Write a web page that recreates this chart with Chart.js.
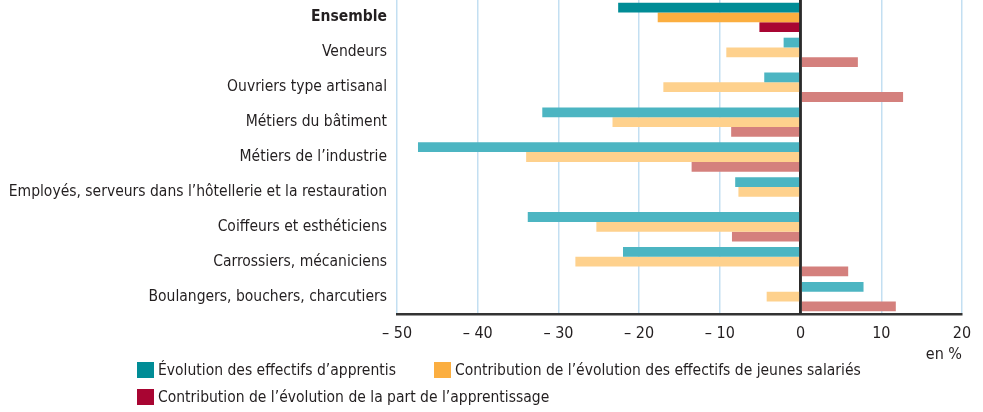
<!DOCTYPE html>
<html lang="fr">
<head>
<meta charset="utf-8">
<script src="https://cdn.jsdelivr.net/npm/chart.js@4"></script>
<style>
  body { margin: 0; background: #fff; }
  #wrap { position: relative; width: 983px; height: 412px; }
  #legend {
    position: absolute; left: 137px; top: 361px;
    font-family: "Liberation Sans Narrow", "DejaVu Sans Condensed", sans-serif;
    font-size: 15.5px; color: #231f20;
  }
  .row { display: flex; column-gap: 38px; height: 17px; margin-bottom: 10px; white-space: nowrap; }
  .item { display: flex; align-items: center; height: 17px; }
  .box { width: 17px; height: 16px; margin-right: 4px; }
</style>
</head>
<body>
<div id="wrap">
  <canvas id="bar" width="983" height="412"></canvas>
  <div id="legend"></div>
</div>
<script>
// Categories and series (values in %)
const categories = [
  'Ensemble',
  'Vendeurs',
  'Ouvriers type artisanal',
  'Métiers du bâtiment',
  'Métiers de l\u2019industrie',
  'Employés, serveurs dans l\u2019hôtellerie et la restauration',
  'Coiffeurs et esthéticiens',
  'Carrossiers, mécaniciens',
  'Boulangers, bouchers, charcutiers'
];
const apprentis = [-22.6, -2.1, -4.5, -32.0, -47.4, -8.1, -33.8, -22.0, 7.8];
const jeunesSalaries = [-17.7, -9.2, -17.0, -23.3, -34.0, -7.7, -25.3, -27.9, -4.2];
const partApprentissage = [-5.1, 7.1, 12.7, -8.6, -13.5, -0.2, -8.5, 5.9, 11.8];
const seriesLabels = [
  '\u00c9volution des effectifs d\u2019apprentis',
  'Contribution de l\u2019\u00e9volution des effectifs de jeunes salari\u00e9s',
  'Contribution de l\u2019\u00e9volution de la part de l\u2019apprentissage'
];
const xTicks = [-50, -40, -30, -20, -10, 0, 10, 20];

const darkColors = ['#008c96', '#fbae40', '#a80532'];
const lightColors = ['#4cb5c2', '#fed18d', '#d4807d'];
const FONT = '"Liberation Sans Narrow", "DejaVu Sans Condensed", sans-serif';
const FONT_SIZE = 15.5;

// first bar (Ensemble) in dark colour, others lighter
function colours(i) {
  return categories.map((c, k) => k === 0 ? darkColors[i] : lightColors[i]);
}

// zero line drawn over the bars
const zeroLine = {
  id: 'zeroLine',
  afterDatasetsDraw(chart) {
    const x = chart.scales.x.getPixelForValue(0);
    const ctx = chart.ctx;
    ctx.save();
    ctx.strokeStyle = '#2b2b2b';
    ctx.lineWidth = 2.5;
    ctx.beginPath();
    ctx.moveTo(x, chart.chartArea.top);
    ctx.lineTo(x, chart.chartArea.bottom);
    ctx.stroke();
    ctx.restore();
  }
};

const data = [apprentis, jeunesSalaries, partApprentissage];

const chart = new Chart(document.getElementById('bar'), {
  type: 'bar',
  data: {
    labels: categories,
    datasets: data.map((d, i) => ({
      label: seriesLabels[i],
      data: d,
      backgroundColor: colours(i),
      borderWidth: 0,
      categoryPercentage: 0.84,
      barPercentage: 1.0
    }))
  },
  options: {
    indexAxis: 'y',
    responsive: false,
    animation: false,
    layout: { padding: { top: 0, right: 21, bottom: 48, left: 0 } },
    plugins: {
      legend: { display: false },
      tooltip: { enabled: false }
    },
    scales: {
      x: {
        min: -50,
        max: 20,
        afterBuildTicks: (scale) => { scale.ticks = xTicks.map(v => ({ value: v })); },
        afterFit: (scale) => { scale.height = 50; },
        grid: {
          drawTicks: false,
          color: (ctx) => ctx.tick && ctx.tick.value === 0 ? '#2b2b2b' : '#c3dff2',
          lineWidth: (ctx) => ctx.tick && ctx.tick.value === 0 ? 2.5 : 1.5
        },
        border: { display: true, color: '#333333', width: 2.5 },
        ticks: {
          padding: 10,
          color: '#231f20',
          font: { family: FONT, size: 16 },
          callback: (v) => v < 0 ? '\u2013 ' + Math.abs(v) : String(v)
        },
        title: {
          display: true,
          text: 'en %',
          align: 'end',
          color: '#231f20',
          font: { family: FONT, size: 16 },
          padding: { top: 0, bottom: 0 }
        }
      },
      y: {
        afterFit: (scale) => {
          scale.width = 397;
          scale.paddingTop = 0;
          scale.paddingBottom = 0;
        },
        grid: { display: false, drawTicks: false },
        border: { display: false },
        ticks: {
          padding: 10,
          color: '#231f20',
          font: (ctx) => ({ family: FONT, size: FONT_SIZE, weight: ctx.index === 0 ? 'bold' : 'normal' })
        }
      }
    }
  },
  plugins: [zeroLine]
});

// HTML legend built from the chart's own datasets: two items on row 1, one on row 2
const legendEl = document.getElementById('legend');
let row;
chart.data.datasets.forEach((ds, i) => {
  if (i === 0 || i === 2) {
    row = document.createElement('div');
    row.className = 'row';
    legendEl.appendChild(row);
  }
  const item = document.createElement('div');
  item.className = 'item';
  const box = document.createElement('span');
  box.className = 'box';
  box.style.background = darkColors[i];
  const txt = document.createElement('span');
  txt.textContent = ds.label;
  item.appendChild(box);
  item.appendChild(txt);
  row.appendChild(item);
});
</script>
</body>
</html>
